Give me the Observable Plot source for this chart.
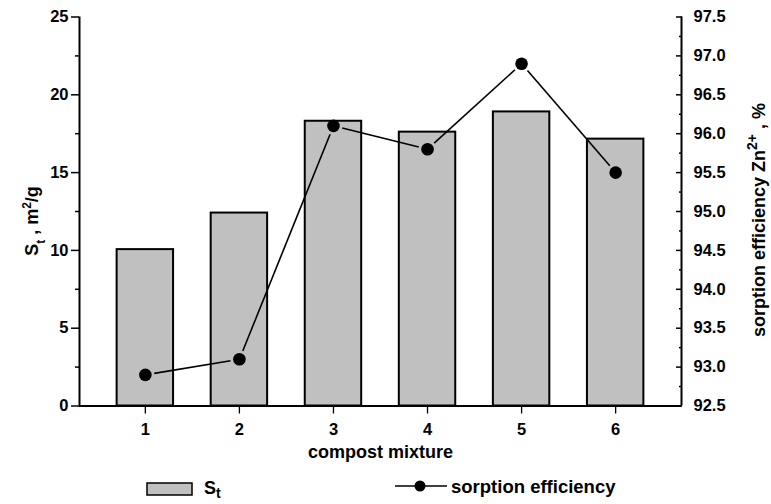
<!DOCTYPE html>
<html><head><meta charset="utf-8">
<script src="https://cdn.jsdelivr.net/npm/d3@7"></script>
<script src="https://cdn.jsdelivr.net/npm/@observablehq/plot@0.6"></script>
<style>
body{margin:0;background:#fff;font-family:"Liberation Sans",Arial,sans-serif;font-weight:bold}
#chart svg{display:block}
</style>
</head><body><div id="chart"></div><script>
// ---- data ----
const mixtures = [1, 2, 3, 4, 5, 6];
const surfaceArea = [10.05, 12.4, 18.3, 17.6, 18.9, 17.15];          // S_t, m2/g (left axis)
const sorptionEfficiency = [92.9, 93.1, 96.1, 95.8, 96.9, 95.5];    // % (right axis)
const leftMajorTicks = [0, 5, 10, 15, 20, 25];
const leftMinorTicks = [2.5, 7.5, 12.5, 17.5, 22.5];
const rightMajorTicks = [92.5, 93.0, 93.5, 94.0, 94.5, 95.0, 95.5, 96.0, 96.5, 97.0, 97.5];
const rightMinorTicks = [92.75, 93.25, 93.75, 94.25, 94.75, 95.25, 95.75, 96.25, 96.75, 97.25];
const xTicks = [1, 2, 3, 4, 5, 6];
const rightMin = 92.5, rightMax = 97.5, leftMax = 25;

// map right-axis values onto the left y scale
const toLeft = v => (v - rightMin) * leftMax / (rightMax - rightMin);
const fromLeft = y => rightMin + y * (rightMax - rightMin) / leftMax;

const bars = mixtures.map((m, i) => ({m, s: surfaceArea[i]}));
const eff = mixtures.map((m, i) => ({m, e: toLeft(sorptionEfficiency[i])}));
const segs = d3.pairs(eff).map(([a, b]) => ({x1: a.m, y1: a.e, x2: b.m, y2: b.e}));

const W = 771, H = 474;
const plot = Plot.plot({
  width: W, height: H,
  marginTop: 16.5, marginBottom: 68.5, marginLeft: 79, marginRight: 90,
  style: {fontFamily: '"Liberation Sans", Arial, sans-serif', fontSize: "16px", fontWeight: "bold", color: "black", background: "white"},
  x: {type: "linear", domain: [0.3, 6.7]},
  y: {domain: [0, leftMax]},
  marks: [
    Plot.rectY(bars, {x1: d => d.m - 0.3, x2: d => d.m + 0.3, y: "s", fill: "#c0c0c0", stroke: "black", strokeWidth: 2}),
    Plot.arrow(segs, {x1: "x1", y1: "y1", x2: "x2", y2: "y2", bend: 0, headLength: 0, insetStart: 9, insetEnd: 9, stroke: "black", strokeWidth: 1.6, strokeLinecap: "butt"}),
    Plot.dot(eff, {x: "m", y: "e", r: 6.3, fill: "black", stroke: "none"}),
    // axis lines
    Plot.ruleY([0], {stroke: "black", strokeWidth: 2}),
    Plot.ruleX([0.3, 6.7], {stroke: "black", strokeWidth: 2}),
    // left axis
    Plot.axisY(leftMajorTicks, {anchor: "left", tickSize: 8, tickPadding: 3, label: null, strokeWidth: 1.5, fontSize: 16.5}),
    Plot.axisY(leftMinorTicks, {anchor: "left", tickSize: 4, tickFormat: () => "", label: null, strokeWidth: 1.5}),
    // right axis (ticks inward)
    Plot.axisY(rightMajorTicks.map(toLeft), {anchor: "right", tickSize: 0, tickPadding: 12, tickFormat: d => fromLeft(d).toFixed(1), label: null, fontSize: 16.5}),
    Plot.axisY(rightMajorTicks.map(toLeft), {anchor: "right", tickSize: -6, tickFormat: () => "", label: null, strokeWidth: 1.5}),
    Plot.axisY(rightMinorTicks.map(toLeft), {anchor: "right", tickSize: -3, tickFormat: () => "", label: null, strokeWidth: 1.5}),
    // bottom axis
    Plot.axisX(xTicks, {anchor: "bottom", tickSize: 8, tickPadding: 9, tickFormat: d => String(d), label: null, strokeWidth: 1.3, fontSize: 16.5}),
    Plot.text(["compost mixture"], {frameAnchor: "bottom", dy: 52, fontSize: 18, fontWeight: "bold", fill: "black"})
  ]
});
document.getElementById("chart").appendChild(plot);

// axis titles with sub/superscripts
const svg = d3.select(plot);
const lt = svg.append("text")
  .attr("transform", "translate(38,221) rotate(-90)")
  .attr("text-anchor", "middle")
  .style("font-size", "18px").style("font-weight", "bold").attr("fill", "black");
lt.append("tspan").text("S");
lt.append("tspan").attr("baseline-shift", "sub").style("font-size", "12px").text("t");
lt.append("tspan").text(" , m");
lt.append("tspan").attr("baseline-shift", "super").style("font-size", "12px").text("2");
lt.append("tspan").text("/g");

const rt = svg.append("text")
  .attr("transform", "translate(765,220) rotate(-90)")
  .attr("text-anchor", "middle")
  .style("font-size", "18px").style("font-weight", "bold").attr("fill", "black");
rt.append("tspan").text("sorption efficiency Zn");
rt.append("tspan").attr("baseline-shift", "super").style("font-size", "14px").text("2+");
rt.append("tspan").text(" , %");

// legend below the chart
const lg = d3.select("#chart").append("svg").attr("width", W).attr("height", 504 - H)
  .style("font-family", '"Liberation Sans", Arial, sans-serif').style("font-weight", "bold");
lg.append("rect").attr("x", 147).attr("y", 9).attr("width", 45).attr("height", 12)
  .attr("fill", "#c0c0c0").attr("stroke", "black").attr("stroke-width", 1.5);
const ls = lg.append("text").attr("x", 204).attr("y", 20).style("font-size", "18px").attr("fill", "black");
ls.append("tspan").text("S");
ls.append("tspan").attr("baseline-shift", "-4").style("font-size", "14px").text("t");
lg.append("line").attr("x1", 395).attr("x2", 447).attr("y1", 12).attr("y2", 12).attr("stroke", "black").attr("stroke-width", 1.6);
lg.append("circle").attr("cx", 420).attr("cy", 12).attr("r", 5.5).attr("fill", "black");
lg.append("text").attr("x", 451).attr("y", 19).style("font-size", "18.5px").attr("fill", "black").text("sorption efficiency");
</script></body></html>
